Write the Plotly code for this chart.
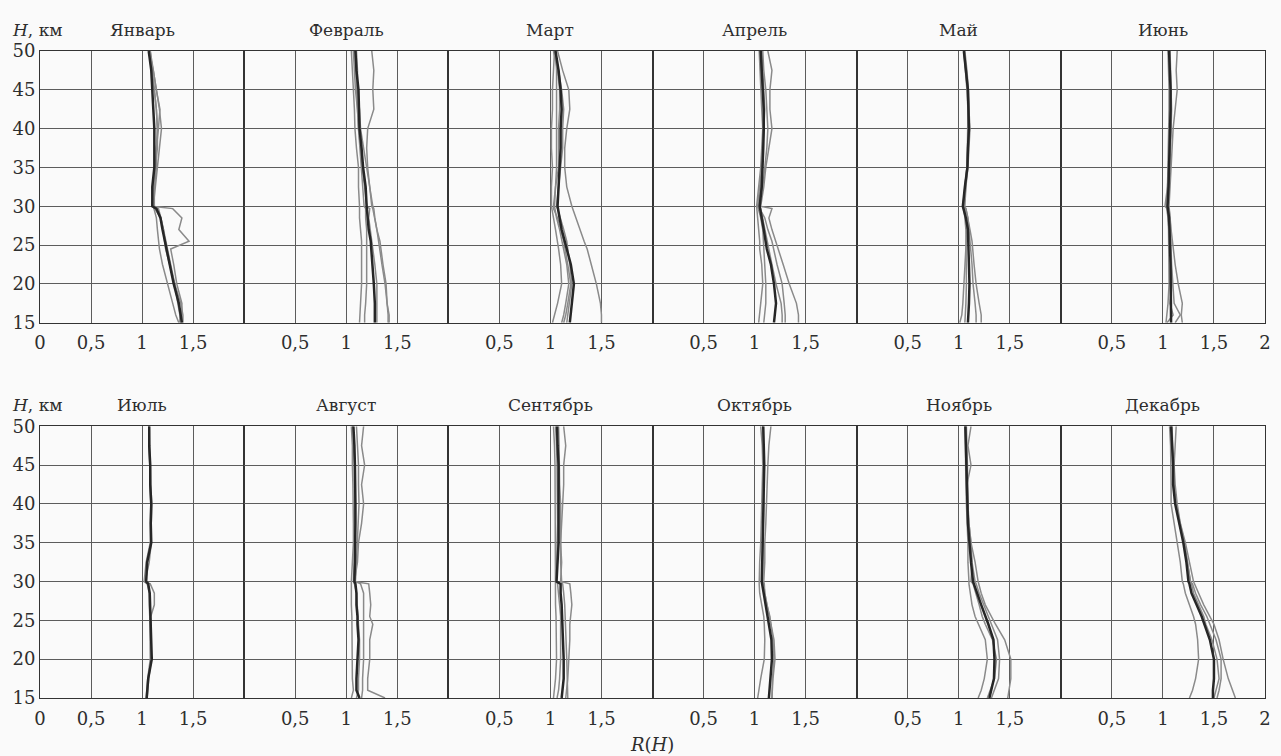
import plotly.graph_objects as go
from plotly.subplots import make_subplots

# Altitude grid (km), shared by all profiles
H = [15, 16, 17.5, 20, 22.5, 24.5, 25.5, 27, 28.5, 29.7, 30, 32.5, 35, 37.5, 40, 42.5, 45, 47.5, 50]

months = ["Январь", "Февраль", "Март", "Апрель", "Май", "Июнь",
          "Июль", "Август", "Сентябрь", "Октябрь", "Ноябрь", "Декабрь"]

# Mean profiles R(H) per month (black lines)
jan_mean = [1.39, 1.38, 1.36, 1.31, 1.27, 1.24, 1.22, 1.20, 1.18, 1.14, 1.10, 1.10, 1.12, 1.12, 1.12, 1.11, 1.10, 1.09, 1.065]
feb_mean = [1.28, 1.28, 1.28, 1.27, 1.26, 1.245, 1.24, 1.22, 1.21, 1.20, 1.20, 1.19, 1.165, 1.15, 1.13, 1.125, 1.12, 1.10, 1.09]
mar_mean = [1.19, 1.20, 1.21, 1.23, 1.20, 1.16, 1.14, 1.11, 1.09, 1.075, 1.07, 1.08, 1.09, 1.10, 1.10, 1.11, 1.10, 1.08, 1.05]
apr_mean = [1.19, 1.20, 1.21, 1.19, 1.16, 1.12, 1.11, 1.09, 1.07, 1.05, 1.05, 1.07, 1.08, 1.085, 1.09, 1.09, 1.08, 1.07, 1.06]
may_mean = [1.09, 1.095, 1.10, 1.105, 1.10, 1.10, 1.095, 1.09, 1.07, 1.05, 1.04, 1.06, 1.085, 1.09, 1.10, 1.095, 1.09, 1.07, 1.05]
jun_mean = [1.08, 1.08, 1.08, 1.08, 1.075, 1.07, 1.07, 1.065, 1.06, 1.05, 1.045, 1.055, 1.06, 1.07, 1.075, 1.075, 1.075, 1.07, 1.06]
jul_mean = [1.045, 1.05, 1.06, 1.095, 1.09, 1.08, 1.08, 1.08, 1.075, 1.06, 1.04, 1.05, 1.09, 1.085, 1.09, 1.08, 1.08, 1.07, 1.07]
aug_mean = [1.13, 1.10, 1.10, 1.11, 1.12, 1.11, 1.11, 1.10, 1.10, 1.09, 1.08, 1.085, 1.09, 1.09, 1.09, 1.09, 1.085, 1.08, 1.07]
sep_mean = [1.11, 1.12, 1.13, 1.13, 1.125, 1.12, 1.12, 1.11, 1.10, 1.10, 1.06, 1.07, 1.08, 1.08, 1.08, 1.08, 1.08, 1.07, 1.065]
oct_mean = [1.14, 1.145, 1.155, 1.17, 1.165, 1.14, 1.13, 1.11, 1.085, 1.075, 1.07, 1.075, 1.08, 1.08, 1.085, 1.09, 1.095, 1.09, 1.085]
nov_mean = [1.30, 1.32, 1.345, 1.35, 1.34, 1.29, 1.26, 1.22, 1.18, 1.15, 1.14, 1.12, 1.105, 1.09, 1.085, 1.08, 1.075, 1.07, 1.065]
dec_mean = [1.49, 1.49, 1.50, 1.50, 1.46, 1.41, 1.38, 1.33, 1.28, 1.26, 1.25, 1.23, 1.20, 1.16, 1.12, 1.10, 1.10, 1.09, 1.08]

# Individual-year profiles per month (grey lines)
jan_years = [
    [1.38, 1.39, 1.39, 1.34, 1.31, 1.28, 1.46, 1.36, 1.39, 1.30, 1.10, 1.11, 1.13, 1.14, 1.15, 1.14, 1.12, 1.09, 1.07],
    [1.36, 1.33, 1.30, 1.25, 1.20, 1.17, 1.16, 1.15, 1.14, 1.12, 1.11, 1.13, 1.15, 1.17, 1.19, 1.17, 1.14, 1.11, 1.07],
    [1.40, 1.40, 1.38, 1.32, 1.27, 1.23, 1.22, 1.21, 1.185, 1.16, 1.12, 1.12, 1.14, 1.14, 1.16, 1.175, 1.14, 1.11, 1.08],
    [1.37, 1.37, 1.35, 1.32, 1.28, 1.25, 1.24, 1.21, 1.18, 1.13, 1.11, 1.12, 1.13, 1.15, 1.15, 1.14, 1.12, 1.10, 1.08],
]
feb_years = [
    [1.41, 1.41, 1.40, 1.39, 1.36, 1.34, 1.33, 1.30, 1.28, 1.26, 1.25, 1.23, 1.21, 1.20, 1.21, 1.27, 1.26, 1.27, 1.25],
    [1.13, 1.135, 1.14, 1.15, 1.15, 1.15, 1.15, 1.14, 1.13, 1.13, 1.13, 1.12, 1.12, 1.10, 1.085, 1.08, 1.07, 1.06, 1.05],
    [1.30, 1.30, 1.30, 1.30, 1.28, 1.26, 1.25, 1.23, 1.22, 1.23, 1.20, 1.18, 1.155, 1.14, 1.12, 1.11, 1.09, 1.08, 1.07],
    [1.42, 1.42, 1.40, 1.38, 1.35, 1.33, 1.32, 1.30, 1.28, 1.27, 1.26, 1.23, 1.20, 1.17, 1.14, 1.13, 1.11, 1.11, 1.10],
    [1.18, 1.18, 1.19, 1.20, 1.20, 1.20, 1.20, 1.20, 1.19, 1.19, 1.175, 1.16, 1.15, 1.13, 1.12, 1.11, 1.10, 1.09, 1.085],
]
mar_years = [
    [1.50, 1.50, 1.49, 1.45, 1.40, 1.36, 1.33, 1.29, 1.25, 1.22, 1.21, 1.16, 1.14, 1.14, 1.16, 1.19, 1.18, 1.12, 1.07],
    [1.02, 1.04, 1.07, 1.11, 1.10, 1.08, 1.07, 1.05, 1.03, 1.01, 1.01, 1.01, 1.02, 1.01, 1.01, 1.02, 1.02, 1.03, 1.04],
    [1.11, 1.13, 1.15, 1.18, 1.16, 1.13, 1.12, 1.09, 1.06, 1.04, 1.04, 1.05, 1.06, 1.06, 1.06, 1.06, 1.065, 1.06, 1.05],
    [1.16, 1.17, 1.19, 1.21, 1.19, 1.17, 1.16, 1.13, 1.10, 1.07, 1.06, 1.08, 1.10, 1.12, 1.12, 1.13, 1.11, 1.08, 1.04],
    [1.13, 1.15, 1.17, 1.20, 1.17, 1.14, 1.13, 1.10, 1.07, 1.03, 1.03, 1.05, 1.08, 1.08, 1.08, 1.09, 1.09, 1.07, 1.03],
]
apr_years = [
    [1.43, 1.43, 1.41, 1.34, 1.28, 1.23, 1.21, 1.17, 1.14, 1.17, 1.06, 1.09, 1.11, 1.14, 1.17, 1.15, 1.15, 1.17, 1.13],
    [1.30, 1.30, 1.29, 1.27, 1.22, 1.19, 1.17, 1.13, 1.10, 1.05, 1.04, 1.08, 1.10, 1.12, 1.13, 1.12, 1.11, 1.09, 1.08],
    [1.04, 1.05, 1.06, 1.08, 1.07, 1.05, 1.05, 1.04, 1.03, 1.02, 1.02, 1.04, 1.06, 1.07, 1.08, 1.07, 1.06, 1.05, 1.045],
    [1.27, 1.27, 1.26, 1.21, 1.17, 1.14, 1.13, 1.10, 1.08, 1.06, 1.04, 1.06, 1.07, 1.08, 1.09, 1.10, 1.09, 1.08, 1.07],
    [1.09, 1.10, 1.11, 1.11, 1.10, 1.09, 1.085, 1.08, 1.06, 1.04, 1.03, 1.05, 1.07, 1.08, 1.09, 1.085, 1.08, 1.06, 1.05],
]
may_years = [
    [1.22, 1.22, 1.20, 1.17, 1.15, 1.14, 1.13, 1.11, 1.09, 1.07, 1.05, 1.07, 1.09, 1.10, 1.11, 1.10, 1.095, 1.08, 1.06],
    [1.17, 1.17, 1.16, 1.14, 1.13, 1.12, 1.11, 1.10, 1.09, 1.07, 1.06, 1.07, 1.08, 1.09, 1.10, 1.10, 1.09, 1.07, 1.055],
    [1.06, 1.065, 1.07, 1.075, 1.075, 1.075, 1.07, 1.07, 1.06, 1.05, 1.04, 1.06, 1.08, 1.085, 1.09, 1.09, 1.08, 1.065, 1.05],
    [1.01, 1.03, 1.04, 1.05, 1.06, 1.07, 1.07, 1.08, 1.07, 1.06, 1.05, 1.06, 1.08, 1.09, 1.095, 1.09, 1.085, 1.07, 1.05],
]
jun_years = [
    [1.19, 1.18, 1.19, 1.15, 1.12, 1.10, 1.09, 1.08, 1.07, 1.065, 1.06, 1.07, 1.08, 1.09, 1.10, 1.12, 1.14, 1.13, 1.14],
    [1.04, 1.10, 1.07, 1.09, 1.08, 1.075, 1.07, 1.06, 1.05, 1.04, 1.02, 1.045, 1.055, 1.07, 1.08, 1.08, 1.08, 1.075, 1.07],
    [1.03, 1.04, 1.05, 1.06, 1.06, 1.06, 1.06, 1.055, 1.05, 1.045, 1.04, 1.045, 1.05, 1.055, 1.06, 1.06, 1.06, 1.055, 1.05],
    [1.12, 1.17, 1.11, 1.095, 1.085, 1.08, 1.08, 1.075, 1.07, 1.06, 1.05, 1.06, 1.065, 1.075, 1.08, 1.085, 1.08, 1.075, 1.065],
]
jul_years = [
    [1.05, 1.055, 1.065, 1.09, 1.085, 1.08, 1.085, 1.12, 1.12, 1.08, 1.03, 1.07, 1.09, 1.09, 1.095, 1.085, 1.08, 1.075, 1.07],
    [1.04, 1.045, 1.055, 1.08, 1.08, 1.075, 1.075, 1.07, 1.07, 1.05, 1.02, 1.04, 1.08, 1.08, 1.085, 1.075, 1.075, 1.065, 1.065],
]
aug_years = [
    [1.38, 1.21, 1.21, 1.23, 1.23, 1.26, 1.23, 1.24, 1.23, 1.22, 1.08, 1.11, 1.12, 1.15, 1.17, 1.15, 1.18, 1.15, 1.17],
    [1.15, 1.16, 1.16, 1.17, 1.17, 1.17, 1.175, 1.17, 1.17, 1.14, 1.09, 1.10, 1.11, 1.12, 1.125, 1.12, 1.12, 1.11, 1.10],
    [1.05, 1.07, 1.06, 1.06, 1.06, 1.055, 1.055, 1.05, 1.05, 1.05, 1.05, 1.06, 1.07, 1.07, 1.07, 1.065, 1.06, 1.06, 1.05],
    [1.10, 1.12, 1.12, 1.13, 1.13, 1.12, 1.12, 1.11, 1.10, 1.08, 1.07, 1.08, 1.08, 1.08, 1.085, 1.08, 1.08, 1.07, 1.065],
]
sep_years = [
    [1.15, 1.16, 1.17, 1.18, 1.19, 1.19, 1.20, 1.21, 1.20, 1.19, 1.10, 1.11, 1.10, 1.11, 1.12, 1.13, 1.13, 1.15, 1.13],
    [1.065, 1.08, 1.09, 1.10, 1.10, 1.10, 1.10, 1.09, 1.08, 1.07, 1.06, 1.06, 1.065, 1.07, 1.07, 1.07, 1.065, 1.06, 1.05],
    [1.17, 1.17, 1.165, 1.16, 1.155, 1.15, 1.15, 1.14, 1.13, 1.12, 1.11, 1.10, 1.10, 1.10, 1.10, 1.09, 1.09, 1.085, 1.08],
    [1.03, 1.04, 1.05, 1.06, 1.06, 1.06, 1.055, 1.05, 1.05, 1.05, 1.05, 1.05, 1.05, 1.05, 1.05, 1.045, 1.045, 1.04, 1.03],
]
oct_years = [
    [1.17, 1.175, 1.18, 1.20, 1.19, 1.16, 1.15, 1.12, 1.10, 1.095, 1.09, 1.10, 1.10, 1.11, 1.115, 1.12, 1.13, 1.14, 1.16],
    [1.03, 1.04, 1.06, 1.095, 1.10, 1.095, 1.09, 1.07, 1.05, 1.045, 1.045, 1.05, 1.06, 1.065, 1.07, 1.075, 1.08, 1.075, 1.06],
    [1.17, 1.17, 1.175, 1.19, 1.18, 1.16, 1.145, 1.12, 1.10, 1.09, 1.08, 1.08, 1.085, 1.09, 1.09, 1.09, 1.09, 1.085, 1.08],
]
nov_years = [
    [1.48, 1.49, 1.51, 1.51, 1.45, 1.36, 1.32, 1.26, 1.22, 1.20, 1.19, 1.16, 1.12, 1.10, 1.085, 1.08, 1.12, 1.09, 1.12],
    [1.32, 1.35, 1.39, 1.40, 1.38, 1.32, 1.29, 1.24, 1.20, 1.17, 1.16, 1.13, 1.11, 1.095, 1.09, 1.09, 1.085, 1.08, 1.075],
    [1.19, 1.22, 1.25, 1.28, 1.26, 1.19, 1.16, 1.13, 1.11, 1.10, 1.10, 1.09, 1.09, 1.08, 1.075, 1.07, 1.07, 1.065, 1.06],
    [1.28, 1.31, 1.35, 1.37, 1.33, 1.26, 1.23, 1.20, 1.17, 1.14, 1.12, 1.13, 1.12, 1.10, 1.09, 1.08, 1.075, 1.07, 1.065],
]
dec_years = [
    [1.71, 1.68, 1.64, 1.59, 1.55, 1.50, 1.46, 1.40, 1.35, 1.31, 1.30, 1.26, 1.22, 1.17, 1.14, 1.12, 1.11, 1.12, 1.13],
    [1.53, 1.55, 1.57, 1.57, 1.52, 1.46, 1.43, 1.37, 1.32, 1.29, 1.27, 1.24, 1.21, 1.16, 1.13, 1.11, 1.10, 1.095, 1.09],
    [1.26, 1.29, 1.32, 1.35, 1.34, 1.32, 1.30, 1.26, 1.22, 1.20, 1.19, 1.17, 1.14, 1.11, 1.08, 1.08, 1.08, 1.075, 1.065],
    [1.50, 1.52, 1.55, 1.53, 1.48, 1.42, 1.40, 1.35, 1.30, 1.28, 1.27, 1.24, 1.21, 1.17, 1.13, 1.11, 1.10, 1.09, 1.08],
]

means = [jan_mean, feb_mean, mar_mean, apr_mean, may_mean, jun_mean,
         jul_mean, aug_mean, sep_mean, oct_mean, nov_mean, dec_mean]
years = [jan_years, feb_years, mar_years, apr_years, may_years, jun_years,
         jul_years, aug_years, sep_years, oct_years, nov_years, dec_years]

x_ticks_inner = [0.5, 1, 1.5]
x_labels_inner = ["0,5", "1", "1,5"]
y_ticks = [15, 20, 25, 30, 35, 40, 45, 50]

FONT = "DejaVu Serif"
BG = "#fafafa"
GRID = "#5c5c5c"
EDGE = "#333333"
TXT = "#2e2e2e"

fig = make_subplots(rows=2, cols=6, horizontal_spacing=0, vertical_spacing=0.16)

for i in range(12):
    r, c = i // 6 + 1, i % 6 + 1
    for prof in years[i]:
        fig.add_trace(go.Scatter(x=prof, y=H, mode="lines",
                                 line=dict(color="#8a8a8a", width=1.5),
                                 showlegend=False, hoverinfo="skip"), row=r, col=c)
    fig.add_trace(go.Scatter(x=means[i], y=H, mode="lines",
                             line=dict(color="#262626", width=2.5),
                             showlegend=False), row=r, col=c)

    tv = list(x_ticks_inner)
    tt = list(x_labels_inner)
    if c == 1:
        tv = [0] + tv
        tt = ["0"] + tt
    if c == 6:
        tv = tv + [2]
        tt = tt + ["2"]
    fig.update_xaxes(range=[0, 2], tickvals=tv, ticktext=tt,
                     showgrid=True, gridcolor=GRID, gridwidth=1,
                     showline=True, linecolor=EDGE, linewidth=1, mirror=True,
                     ticks="", zeroline=False, ticklabelstandoff=4,
                     tickfont=dict(family=FONT, size=18, color=TXT),
                     row=r, col=c)
    fig.update_yaxes(range=[15, 50], tickvals=y_ticks,
                     showgrid=True, gridcolor=GRID, gridwidth=1,
                     showline=True, linecolor=EDGE, linewidth=1, mirror=True,
                     ticks="", zeroline=False,
                     showticklabels=(c == 1),
                     tickfont=dict(family=FONT, size=18, color=TXT),
                     row=r, col=c)

    axn = "" if i == 0 else str(i + 1)
    fig.add_annotation(text=months[i], xref=f"x{axn} domain", yref=f"y{axn} domain",
                       x=0.5, y=1, yanchor="bottom", xanchor="center", yshift=9,
                       showarrow=False, font=dict(family=FONT, size=17, color=TXT))
    if c == 1:
        fig.add_annotation(text="<i>H</i>, км", xref=f"x{axn} domain", yref=f"y{axn} domain",
                           x=0, y=1, xanchor="left", yanchor="bottom", xshift=-30, yshift=9,
                           showarrow=False, font=dict(family=FONT, size=17, color=TXT))

fig.add_annotation(text="<i>R</i>(<i>H</i>)", xref="paper", yref="paper",
                   x=(655 - 40) / 1231, y=0, yshift=-46, xanchor="center", yanchor="middle",
                   showarrow=False, font=dict(family=FONT, size=18, color=TXT))

fig.update_layout(width=1281, height=756,
                  margin=dict(l=40, r=10, t=51, b=58),
                  paper_bgcolor=BG, plot_bgcolor=BG,
                  font=dict(family=FONT, color=TXT))

fig.write_html("out.html")
